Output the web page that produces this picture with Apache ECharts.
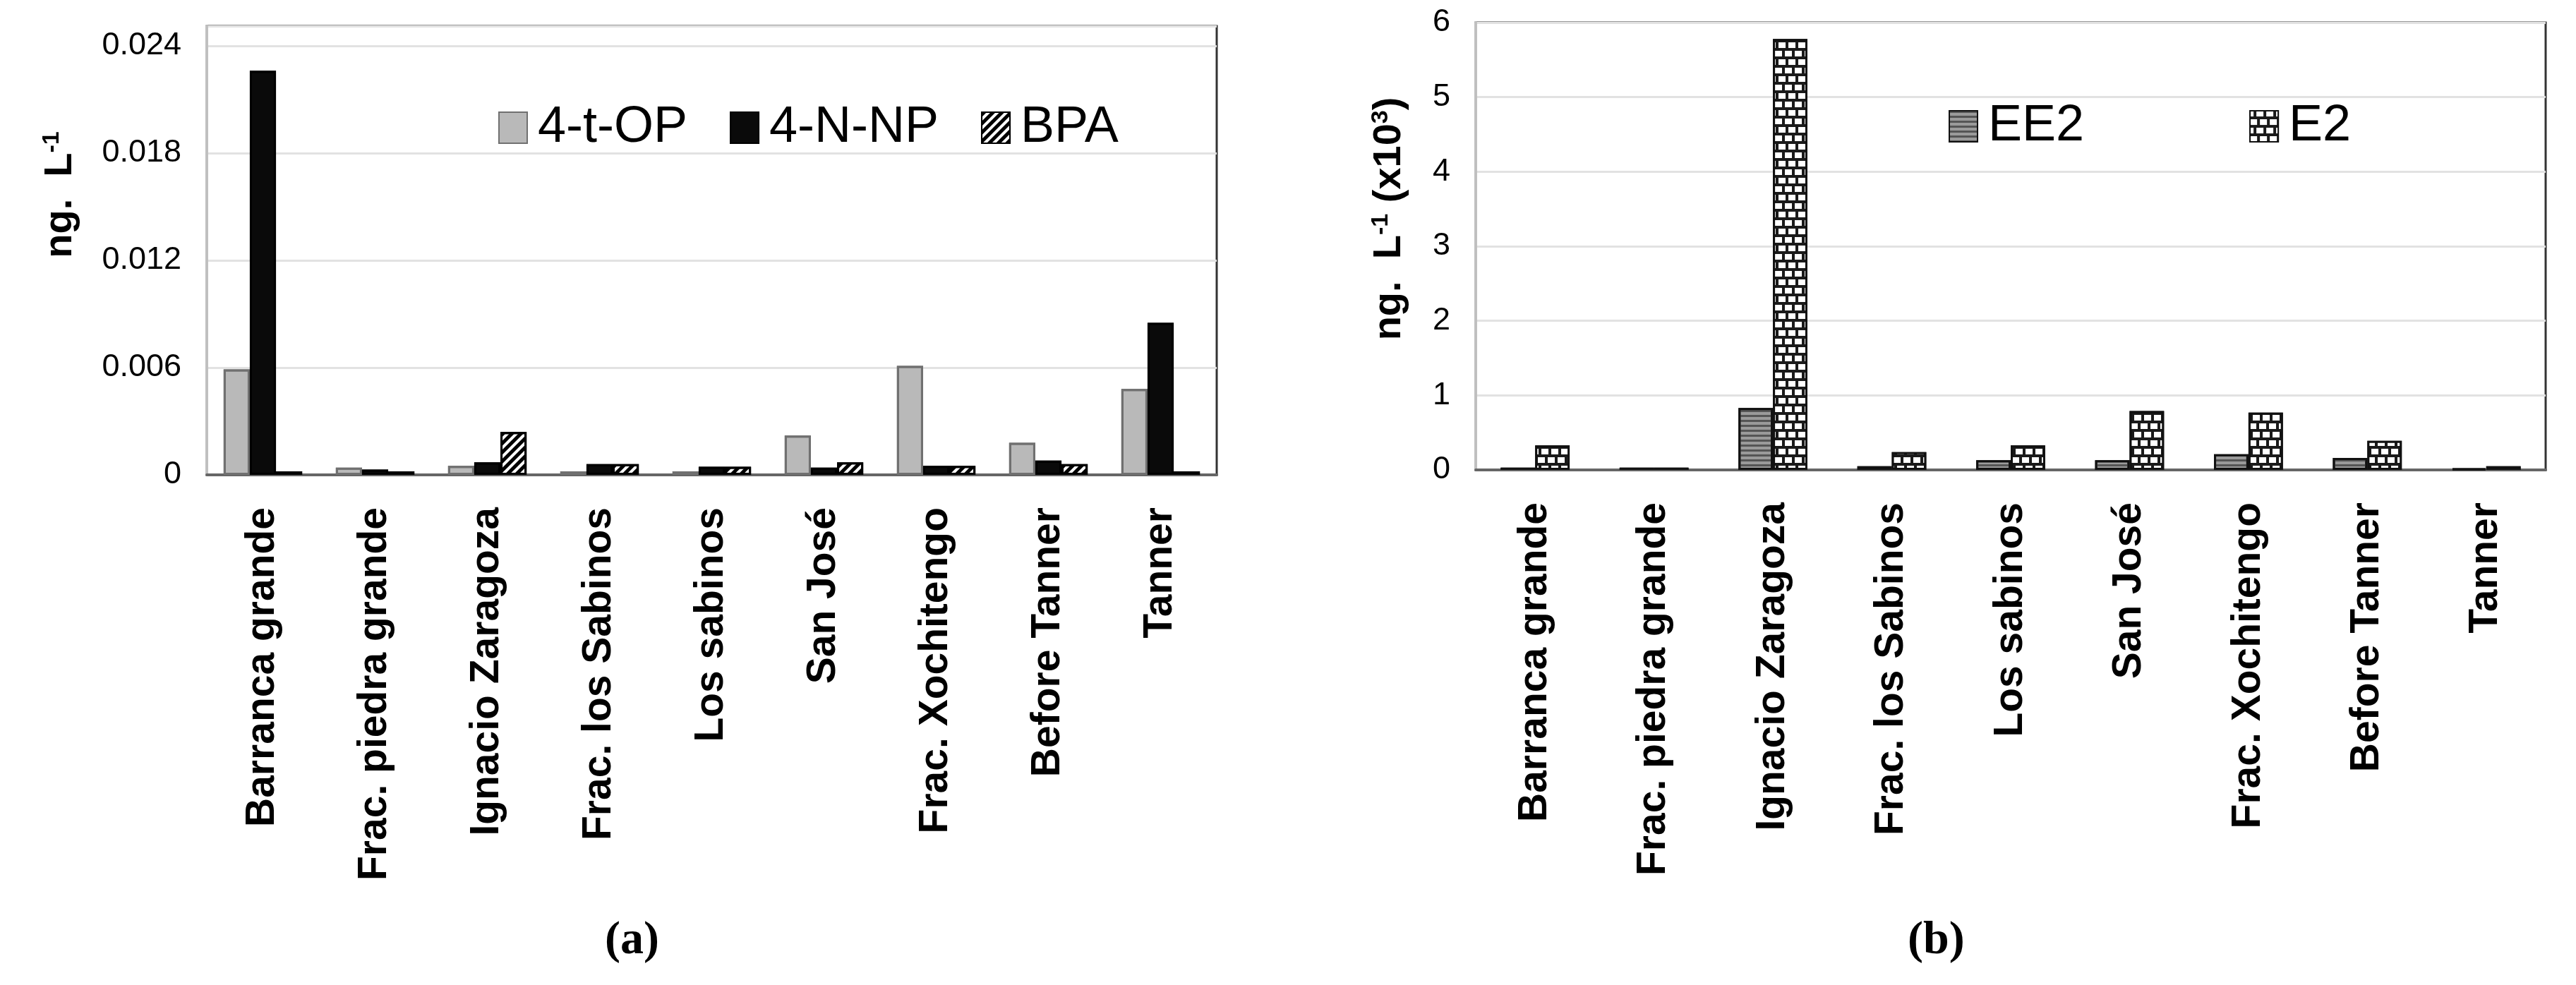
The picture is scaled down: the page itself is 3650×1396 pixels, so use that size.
<!DOCTYPE html>
<html>
<head>
<meta charset="utf-8">
<script src="https://cdn.jsdelivr.net/npm/echarts@6/dist/echarts.min.js"></script>
<style>html,body{margin:0;padding:0;background:#fff}#c{width:3650px;height:1396px}</style>
</head>
<body>
<div id="c"></div>
<script>
const categories = ['Barranca grande','Frac. piedra grande','Ignacio Zaragoza','Frac. los Sabinos','Los sabinos','San José','Frac. Xochitengo','Before Tanner','Tanner'];
const op4t = [0.0059,0.0004,0.0005,0.0002,0.0002,0.0022,0.0061,0.0018,0.0048];
const np4n = [0.0226,0.0003,0.0007,0.0006,0.00045,0.0004,0.0005,0.0008,0.0085];
const bpa  = [0.0002,0.0002,0.0024,0.0006,0.00045,0.0007,0.0005,0.0006,0.0002];
const ee2  = [0.03,0.03,0.83,0.05,0.13,0.13,0.21,0.16,0.02];
const e2   = [0.33,0.03,5.78,0.24,0.33,0.79,0.77,0.39,0.05];

const FONT = "'Liberation Sans', Arial, sans-serif";
const SERIF = "'Liberation Serif', 'Times New Roman', serif";
const chart = echarts.init(document.getElementById('c'), null, {renderer:'canvas'});

const xAxisCommon = {
  type:'category',
  axisTick:{show:false},
  axisLine:{lineStyle:{color:'#666',width:4}},
  axisLabel:{rotate:90,margin:46,fontFamily:FONT,fontWeight:'bold',fontSize:57,color:'#000',interval:0}
};
const yAxisCommon = {
  type:'value',
  axisTick:{show:false},
  axisLine:{show:true,lineStyle:{color:'#c0c0c0',width:4}},
  splitLine:{lineStyle:{color:'#e2e2e2',width:3}},
  axisLabel:{margin:36,fontFamily:FONT,fontSize:45,color:'#000'}
};
const nameRich = {
  t:{fontFamily:FONT,fontWeight:'bold',fontSize:56,color:'#000'},
  s:{fontFamily:FONT,fontWeight:'bold',fontSize:34,color:'#000',verticalAlign:'top',padding:[0,0,24,0]}
};
const capRich = {
  p:{fontFamily:SERIF,fontSize:66,color:'#000'},
  b:{fontFamily:SERIF,fontSize:66,fontWeight:'bold',color:'#000'}
};

chart.setOption({
  backgroundColor:'#fff',
  animation:false,
  title:[
    {text:'{p|(}{b|a}{p|)}',left:852,top:1296,textStyle:{rich:capRich}},
    {text:'{p|(}{b|b}{p|)}',left:2698,top:1296,textStyle:{rich:capRich}}
  ],
  legend:[
    {data:['4-t-OP','4-N-NP','BPA'],left:701,top:140,icon:'rect',itemWidth:40,itemHeight:44,itemGap:60,
     textStyle:{fontFamily:FONT,fontSize:72,color:'#000',padding:[0,0,0,10]}},
    {data:['EE2','E2'],left:2756,top:138,icon:'rect',itemWidth:40,itemHeight:44,itemGap:234,
     textStyle:{fontFamily:FONT,fontSize:72,color:'#000',padding:[0,0,0,10]}}
  ],
  grid:[
    {left:293,top:37,width:1431,height:636,show:true,borderColor:'#333',borderWidth:3,backgroundColor:'#fff'},
    {left:2091,top:32,width:1516,height:634,show:true,borderColor:'#333',borderWidth:3,backgroundColor:'#fff'}
  ],
  xAxis:[
    Object.assign({},xAxisCommon,{gridIndex:0,data:categories}),
    Object.assign({},xAxisCommon,{gridIndex:1,data:categories})
  ],
  yAxis:[
    Object.assign({},yAxisCommon,{gridIndex:0,min:0,max:0.0251,interval:0.006,
      axisLabel:Object.assign({},yAxisCommon.axisLabel,{showMaxLabel:false,formatter:v=>v===0?'0':v.toFixed(3)}),
      name:'{t|ng.  L}{s|-1}',nameLocation:'middle',nameGap:178,nameRotate:90,
      nameTextStyle:{padding:[0,0,0,158],rich:nameRich}}),
    Object.assign({},yAxisCommon,{gridIndex:1,min:0,max:6,interval:1,
      name:'{t|ng.  L}{s|-1}{t| (x10}{s|3}{t|)}',nameLocation:'middle',nameGap:93,nameRotate:90,
      nameTextStyle:{padding:[0,0,0,78],rich:nameRich}})
  ],
  series:[
    {name:'4-t-OP',type:'bar',xAxisIndex:0,yAxisIndex:0,data:op4t,barGap:'0%',barCategoryGap:'30%',
     itemStyle:{color:'#b9b9b9',borderColor:'#707070',borderWidth:3,
       decal:{symbol:'rect',symbolSize:1,color:'rgba(255,255,255,0.7)',dashArrayX:[[3,4]],dashArrayY:[[3,3]]}}},
    {name:'4-N-NP',type:'bar',xAxisIndex:0,yAxisIndex:0,data:np4n,barGap:'0%',barCategoryGap:'30%',
     itemStyle:{color:'#0a0a0a',borderColor:'#000',borderWidth:3,
       decal:{symbol:'rect',symbolSize:1,color:'#8a8a8a',dashArrayX:[[3,5]],dashArrayY:[[3,5]]}}},
    {name:'BPA',type:'bar',xAxisIndex:0,yAxisIndex:0,data:bpa,barGap:'0%',barCategoryGap:'30%',
     itemStyle:{color:'#ffffff',borderColor:'#000',borderWidth:3,
       decal:{symbol:'rect',symbolSize:1,color:'#000',dashArrayX:[1,0],dashArrayY:[5,4],rotation:-Math.PI/4}}},
    {name:'EE2',type:'bar',xAxisIndex:1,yAxisIndex:1,data:ee2,barGap:'0%',barCategoryGap:'42%',
     itemStyle:{color:'#9a9a9a',borderColor:'#111',borderWidth:3,
       decal:{symbol:'rect',symbolSize:1,color:'#555',dashArrayX:[1,0],dashArrayY:[3,4],rotation:0}}},
    {name:'E2',type:'bar',xAxisIndex:1,yAxisIndex:1,data:e2,barGap:'0%',barCategoryGap:'42%',
     itemStyle:{color:'#1a1a1a',borderColor:'#111',borderWidth:3,
       decal:{symbol:'rect',symbolSize:1,color:'#ffffff',dashArrayX:[[10,4],[5,4,5,0]],dashArrayY:[8,4],rotation:0}}}
  ]
});
</script>
</body>
</html>
